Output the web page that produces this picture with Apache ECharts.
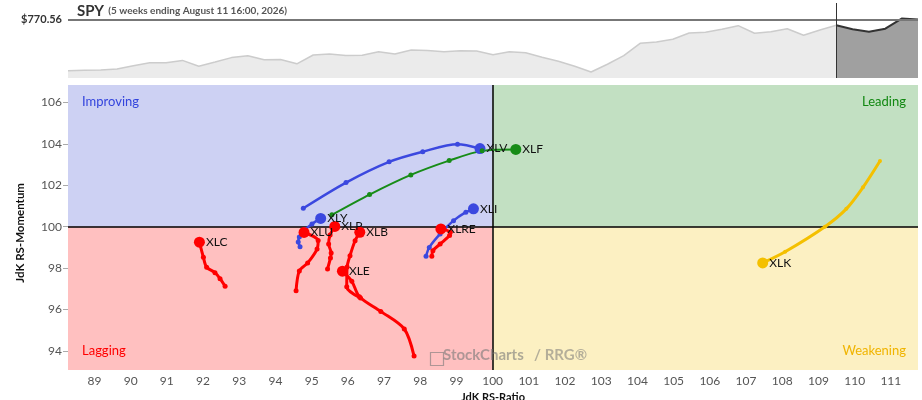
<!DOCTYPE html>
<html><head><meta charset="utf-8">
<script src="https://cdn.jsdelivr.net/npm/echarts@6/dist/echarts.min.js"></script>
<style>html,body{margin:0;padding:0;background:#fff}#c{width:922px;height:400px}</style>
</head><body><div id="c"></div>
<script>
// ---- SPY header (weekly closes) ----
const spyPrice = [642.6,643.6,644.3,646.8,655.1,662.3,662.6,668.3,653.8,664.3,
  675.3,679.8,670.1,670.8,659.8,681.8,684.3,680.8,681.1,690.1,
  684.3,694.3,692.8,689.8,692.6,691.8,682.6,690.1,687.6,676.1,
  666.1,653.6,639.3,658.6,680.1,711.1,714.3,721.1,736.8,738.6,
  746.1,755.1,736.1,740.1,747.6,731.1,744.3,756.1,746.1,740.1,
  747.6,772.8,770.56];
const spyLast = 770.56;
const highlightStart = 47;

// ---- RRG trails (oldest -> newest) ----
const tickers = ['XLV','XLF','XLY','XLI','XLU','XLP','XLB','XLE','XLC','XLRE','XLK'];
const XLV_ratio = [94.77, 95.95, 97.14, 98.07, 99.03, 99.65];
const XLV_mom   = [100.89, 102.13, 103.13, 103.62, 103.98, 103.77];
const XLF_ratio = [95.56, 96.60, 97.74, 98.80, 99.71, 100.64];
const XLF_mom   = [100.57, 101.55, 102.50, 103.19, 103.66, 103.73];
const XLY_ratio = [94.68, 94.63, 94.66, 94.82, 95.01, 95.25];
const XLY_mom   = [99.03, 99.26, 99.50, 99.86, 100.13, 100.40];
const XLI_ratio = [98.16, 98.25, 98.55, 98.92, 99.26, 99.47];
const XLI_mom   = [98.57, 99.00, 99.65, 100.29, 100.70, 100.86];
const XLU_ratio = [94.57, 94.66, 94.89, 95.15, 95.18, 94.79];
const XLU_mom   = [96.91, 97.86, 98.25, 98.92, 99.33, 99.72];
const XLP_ratio = [95.44, 95.52, 95.54, 95.47, 95.51, 95.64];
const XLP_mom   = [97.96, 98.49, 98.73, 99.16, 99.60, 100.01];
const XLB_ratio = [96.35, 95.97, 95.98, 96.06, 96.20, 96.33];
const XLB_mom   = [96.56, 97.10, 98.05, 98.60, 99.32, 99.73];
const XLE_ratio = [97.83, 97.56, 96.91, 96.32, 96.11, 95.85];
const XLE_mom   = [93.75, 95.06, 95.91, 96.62, 97.36, 97.85];
const XLC_ratio = [92.61, 92.47, 92.33, 92.10, 92.01, 91.90];
const XLC_mom   = [97.12, 97.49, 97.78, 98.04, 98.52, 99.25];
const XLRE_ratio = [98.32, 98.35, 98.55, 98.81, 98.83, 98.57];
const XLRE_mom   = [98.57, 98.84, 99.16, 99.57, 99.73, 99.89];
const XLK_ratio = [110.70, 110.23, 109.77, 109.18, 108.08, 107.46];
const XLK_mom   = [103.17, 101.90, 100.86, 100.00, 98.79, 98.25];

const ratioTicks = [89,90,91,92,93,94,95,96,97,98,99,100,101,102,103,104,105,106,107,108,109,110,111];
const momTicks = [94,96,98,100,102,104,106];
const ratioMin = 88.27, ratioMax = 111.75;
const momMin = 93.08, momMax = 106.84;
const centre = 100;

const trailData = {
  XLV:[XLV_ratio,XLV_mom], XLF:[XLF_ratio,XLF_mom], XLY:[XLY_ratio,XLY_mom], XLI:[XLI_ratio,XLI_mom],
  XLU:[XLU_ratio,XLU_mom], XLP:[XLP_ratio,XLP_mom], XLB:[XLB_ratio,XLB_mom], XLE:[XLE_ratio,XLE_mom],
  XLC:[XLC_ratio,XLC_mom], XLRE:[XLRE_ratio,XLRE_mom], XLK:[XLK_ratio,XLK_mom]
};
const BLUE='#3b48df', GREEN='#178c17', RED='#ff0000', YELLOW='#f4c000';
const trailStyle = {
  XLV:[BLUE,2.5], XLF:[GREEN,2], XLY:[BLUE,2.5], XLI:[BLUE,2.5], XLU:[RED,3], XLP:[RED,3],
  XLB:[RED,3], XLE:[RED,3], XLC:[RED,3], XLRE:[RED,3], XLK:[YELLOW,3]
};
const FONT = 'Lato, "Open Sans", sans-serif';

function trail(name){
  const [xs, ys] = trailData[name];
  const [color, width] = trailStyle[name];
  return {
    type:'line', name, xAxisIndex:0, yAxisIndex:0, z:5, smooth:0.3,
    symbol:'circle', symbolSize: name==='XLK'?4:5, showAllSymbol:true,
    lineStyle:{color, width}, itemStyle:{color},
    emphasis:{disabled:true},
    data: xs.map((x,i)=> i===xs.length-1
      ? {value:[x, ys[i]], symbolSize:11,
         label:{show:true, formatter:name, position:'right', distance:1, color:'#111', fontSize:12, fontFamily:FONT}}
      : [x, ys[i]])
  };
}

const chart = echarts.init(document.getElementById('c'), null, {renderer:'canvas'});
const series = [
  { // quadrant backgrounds
    type:'line', xAxisIndex:0, yAxisIndex:0, data:[], z:-1, silent:true,
    markArea:{silent:true, data:[
      [{coord:[ratioMin, centre], itemStyle:{color:'#cdd1f3'}},{coord:[centre, momMax]}],
      [{coord:[centre, centre], itemStyle:{color:'#c2e0c2'}},{coord:[ratioMax, momMax]}],
      [{coord:[ratioMin, momMin], itemStyle:{color:'#ffc0c0'}},{coord:[centre, centre]}],
      [{coord:[centre, momMin], itemStyle:{color:'#fcf0c2'}},{coord:[ratioMax, centre]}]
    ]}
  },
  { // centre lines
    type:'line', xAxisIndex:0, yAxisIndex:0, data:[], z:3, silent:true,
    markLine:{silent:true, symbol:'none', label:{show:false},
      lineStyle:{color:'#000', width:1.5, type:'solid'},
      data:[{xAxis:centre},{yAxis:centre}]}
  },
  ...tickers.map(trail),
  { // header light area
    type:'line', xAxisIndex:1, yAxisIndex:1, symbol:'none', silent:true,
    data: spyPrice.map((v,i)=> i<=highlightStart ? v : null),
    lineStyle:{color:'#cccccc', width:1.5}, areaStyle:{color:'#ebebeb', opacity:1},
    markLine:{silent:true, symbol:'none',
      lineStyle:{color:'#777', width:2, type:'solid'},
      label:{show:true, position:'start', formatter:'$'+spyLast.toFixed(2), color:'#333', fontSize:11, fontWeight:'bold', fontFamily:FONT, distance:6},
      data:[{yAxis:spyLast}]}
  },
  { // header highlighted 5 weeks
    type:'line', xAxisIndex:1, yAxisIndex:1, symbol:'none', silent:true, z:4,
    data: spyPrice.map((v,i)=> i>=highlightStart ? v : null),
    lineStyle:{color:'#333', width:2}, areaStyle:{color:'#a0a0a0', opacity:1},
    markLine:{silent:true, symbol:'none', label:{show:false},
      lineStyle:{color:'#333', width:1, type:'solid'},
      data:[{xAxis:highlightStart}]}
  }
];

chart.setOption({
  animation:false,
  backgroundColor:'#fff',
  textStyle:{fontFamily:FONT},
  title:{
    left:77, top:2, padding:0,
    text:'{a|SPY} {b|(5 weeks ending August 11 16:00, 2026)}',
    textStyle:{rich:{
      a:{fontSize:15, color:'#333', fontFamily:FONT},
      b:{fontSize:10, color:'#555', fontFamily:FONT}
    }}
  },
  grid:[
    {left:68, right:4, top:85, bottom:30, outerBoundsMode:'none', containLabel:false},
    {left:68, right:4, top:3, height:75, outerBoundsMode:'none', containLabel:false}
  ],
  xAxis:[
    {type:'value', gridIndex:0, min:ratioMin, max:ratioMax,
     axisLine:{show:false},
     axisTick:{show:false, customValues:ratioTicks},
     axisLabel:{customValues:ratioTicks, color:'#555', fontSize:12, fontFamily:FONT, margin:5},
     splitLine:{show:true, lineStyle:{color:'#bbbbbb', width:1}},
     name:'JdK RS-Ratio', nameLocation:'middle', nameGap:21,
     nameTextStyle:{color:'#111', fontWeight:'bold', fontSize:11, fontFamily:FONT}
    },
    {type:'category', gridIndex:1, boundaryGap:false, show:false,
     data: spyPrice.map((_,i)=>i)}
  ],
  yAxis:[
    {type:'value', gridIndex:0, min:momMin, max:momMax,
     axisLine:{show:false},
     axisTick:{show:true, length:5, lineStyle:{color:'#aaa'}, customValues:momTicks},
     axisLabel:{customValues:momTicks, color:'#555', fontSize:12, fontFamily:FONT, margin:6},
     splitLine:{show:true, lineStyle:{color:'#bbbbbb', width:1}}
    },
    {type:'value', gridIndex:1, min:624.31, max:811.81, show:false, splitLine:{show:false}}
  ],
  graphic:[
    {type:'text', left:14, top:183, rotation:Math.PI/2,
     style:{text:'JdK RS-Momentum', fill:'#111', font:'bold 11.5px '+FONT}},
    {type:'text', left:82, top:95, z:10, style:{text:'Improving', fill:'#3344dd', font:'13px '+FONT}},
    {type:'text', right:16, top:95, z:10, style:{text:'Leading', fill:'#118811', font:'13px '+FONT}},
    {type:'text', left:82, top:344, z:10, style:{text:'Lagging', fill:'#ff0000', font:'13px '+FONT}},
    {type:'text', right:16, top:344, z:10, style:{text:'Weakening', fill:'#f0b400', font:'13px '+FONT}},
    {type:'rect', left:428, top:350, z:10, shape:{width:13, height:13}, style:{fill:'none', stroke:'rgba(120,120,120,0.6)', lineWidth:1.2}},
    {type:'text', left:443, top:348, z:10, style:{text:'StockCharts', fill:'rgba(120,120,120,0.6)', font:'bold 15px '+FONT}},
    {type:'text', left:534, top:348, z:10, style:{text:'/ RRG®', fill:'rgba(120,120,120,0.55)', font:'bold 15px '+FONT}}
  ],
  series
});
</script></body></html>
